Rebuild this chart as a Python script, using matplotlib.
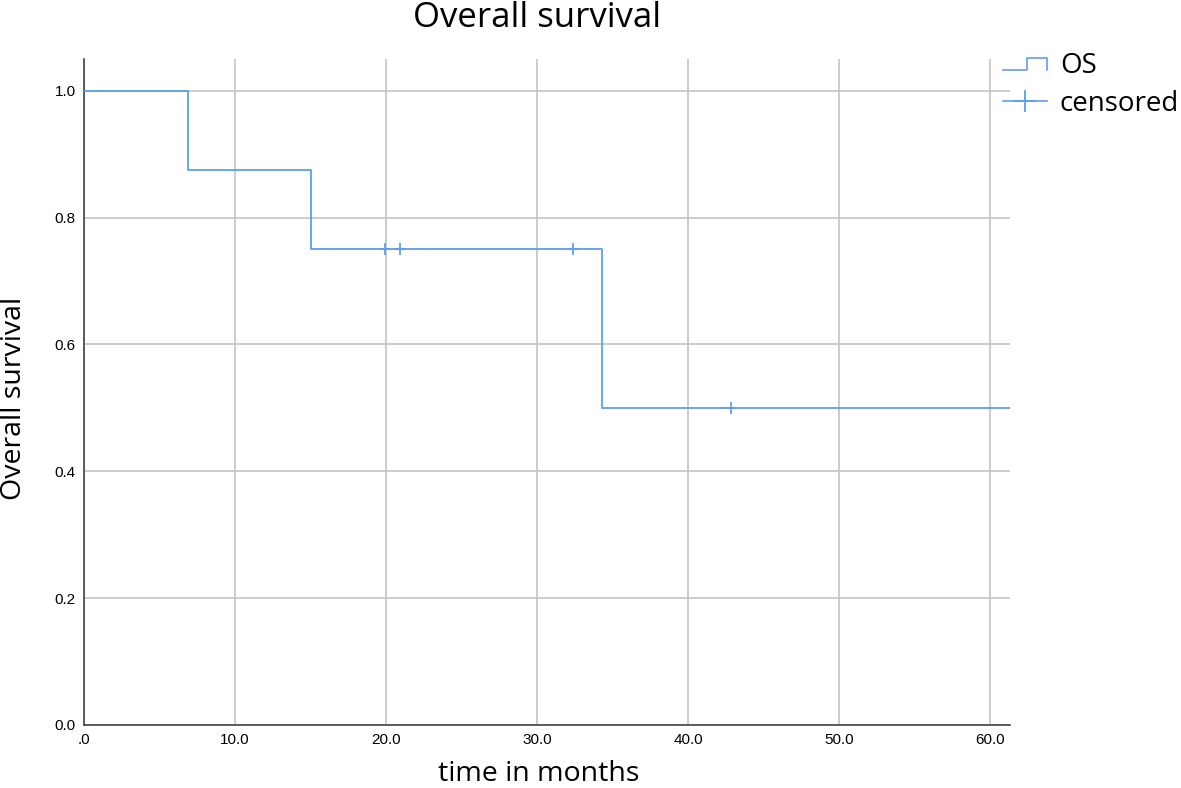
import matplotlib
matplotlib.use("Agg")
import matplotlib.pyplot as plt
from matplotlib.lines import Line2D
from matplotlib.legend_handler import HandlerBase

# Kaplan-Meier step data
step_times = [0.0, 6.9, 15.0, 34.3, 61.3]
step_surv = [1.0, 0.875, 0.75, 0.5, 0.5]
censor_times = [19.9, 20.9, 32.4, 42.8]
censor_surv = [0.75, 0.75, 0.75, 0.5]

x_ticks = [0, 10, 20, 30, 40, 50, 60]
x_labels = [".0", "10.0", "20.0", "30.0", "40.0", "50.0", "60.0"]
y_ticks = [0.0, 0.2, 0.4, 0.6, 0.8, 1.0]
y_labels = ["0.0", "0.2", "0.4", "0.6", "0.8", "1.0"]

BLUE = "#5f9ef0"
TICK_FONT = "Liberation Sans"
LABEL_FONT = ["Open Sans", "DejaVu Sans"]


class StepHandler(HandlerBase):
    def create_artists(self, legend, orig_handle, xdescent, ydescent,
                       width, height, fontsize, trans):
        x0, x1 = -xdescent, -xdescent + width
        xs = [x0, x0 + width * 0.55, x0 + width * 0.55, x1, x1]
        ys = [height * 0.15, height * 0.15, height * 0.75, height * 0.75, height * 0.15]
        line = Line2D(xs, ys, color=BLUE, lw=1.2, transform=trans)
        return [line]


fig = plt.figure(figsize=(11.81, 7.88), dpi=100)
ax = fig.add_axes([84 / 1181, 1 - 725 / 788, 926 / 1181, 666 / 788])

ax.step(step_times, step_surv, where="post", color=BLUE, lw=1.3, zorder=3)
ax.plot(censor_times, censor_surv, ls="none", marker="+", ms=9, mew=1.3,
        color=BLUE, zorder=3)

ax.set_xlim(0, 61.3)
ax.set_ylim(0, 1.05)
ax.set_xticks(x_ticks)
ax.set_xticklabels(x_labels, fontsize=11, family=TICK_FONT)
ax.set_yticks(y_ticks)
ax.set_yticklabels(y_labels, fontsize=11, family=TICK_FONT)
ax.tick_params(length=0, pad=6)
ax.grid(True, color="#c4c4c4", lw=1.2)
ax.set_axisbelow(True)
for side in ["top", "right"]:
    ax.spines[side].set_visible(False)
for side in ["left", "bottom"]:
    ax.spines[side].set_color("#444444")
    ax.spines[side].set_linewidth(1.2)

ax.set_xlabel("time in months", fontsize=20.5, family=LABEL_FONT)
ax.xaxis.set_label_coords(0.491, -0.052)
ax.set_ylabel("Overall survival", fontsize=20.5, family=LABEL_FONT)
ax.yaxis.set_label_coords(-0.061, 0.49)
fig.text(537 / 1181, 0.999, "Overall survival", fontsize=25, family=LABEL_FONT,
         ha="center", va="top")

os_handle = Line2D([], [], color=BLUE)
cens_handle = Line2D([], [], color=BLUE, marker="+", ms=16, mew=1.3, lw=1.2)
fig.legend([os_handle, cens_handle], ["OS", "censored"],
           handler_map={os_handle: StepHandler()},
           loc="upper left", bbox_to_anchor=(1003 / 1181, 1 - 52 / 788),
           frameon=False, prop={"family": LABEL_FONT, "size": 20},
           handlelength=1.6, handletextpad=0.45, labelspacing=0.35,
           borderaxespad=0, borderpad=0)

fig.savefig("out.png", dpi=100)
